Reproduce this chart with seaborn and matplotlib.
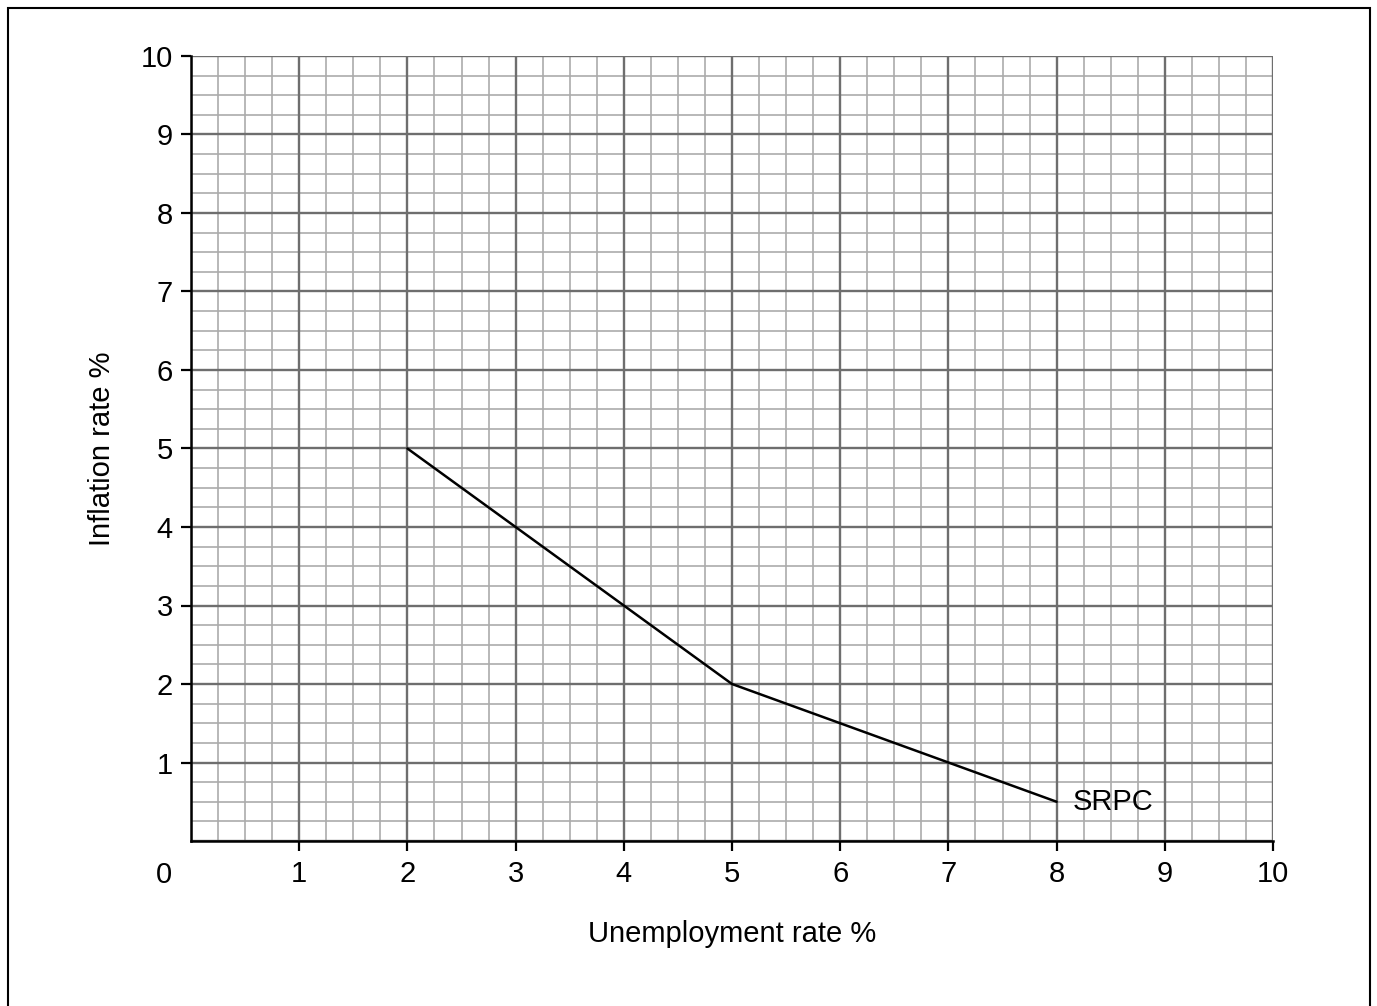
import numpy as np
import matplotlib.pyplot as plt
import seaborn as sns
import pandas as pd

# data
unemployment = [2, 3, 4, 5, 6, 7, 8]
inflation = [5, 4, 3, 2, 1.5, 1, 0.5]
curve_label = 'SRPC'
x_ticks = [1, 2, 3, 4, 5, 6, 7, 8, 9, 10]
y_ticks = [1, 2, 3, 4, 5, 6, 7, 8, 9, 10]

sns.set_style('white')
plt.rcParams['font.family'] = ['Liberation Sans', 'DejaVu Sans']
plt.rcParams['text.color'] = 'black'
plt.rcParams['axes.labelcolor'] = 'black'
plt.rcParams['xtick.color'] = 'black'
plt.rcParams['ytick.color'] = 'black'

FS = 21
W, H = 1377, 1006
fig = plt.figure(figsize=(W / 100, H / 100), dpi=100)
ax = fig.add_axes([191 / W, 1 - 841 / H, (1273 - 191) / W, (841 - 56) / H])

ax.set_xlim(0, 10)
ax.set_ylim(0, 10)

# graph paper grid
minor = np.arange(0, 10.01, 0.25)
major = np.arange(0, 10.01, 1)
for v in minor:
    ax.axvline(v, color='#ababab', lw=1.2, zorder=1)
    ax.axhline(v, color='#ababab', lw=1.2, zorder=1)
for v in major:
    ax.axvline(v, color='#6e6e6e', lw=1.7, zorder=2)
    ax.axhline(v, color='#6e6e6e', lw=1.7, zorder=2)

df = pd.DataFrame({'u': unemployment, 'i': inflation})
sns.lineplot(data=df, x='u', y='i', ax=ax, color='black', lw=1.8,
             sort=False, zorder=5)
ax.text(unemployment[-1] + 0.15, inflation[-1], curve_label,
        fontsize=FS, va='center', ha='left', zorder=6)

for side in ['top', 'right']:
    ax.spines[side].set_visible(False)
for side in ['left', 'bottom']:
    ax.spines[side].set_visible(True)
    ax.spines[side].set_color('black')
    ax.spines[side].set_linewidth(1.8)
    ax.spines[side].set_zorder(7)

ax.set_xticks(x_ticks)
ax.set_yticks(y_ticks)
ax.tick_params(axis='both', direction='out', length=7, width=1.6,
               color='black', labelsize=FS, left=True, bottom=True)
ax.tick_params(axis='x', pad=7)
ax.tick_params(axis='y', pad=6)
ax.text(-0.254, -0.43, '0', fontsize=FS, ha='center', va='center',
        transform=ax.transData, clip_on=False)

ax.set_xlabel('Unemployment rate %', fontsize=FS)
ax.set_ylabel('Inflation rate %', fontsize=FS)
ax.xaxis.set_label_coords(0.5, -0.101)
ax.yaxis.set_label_coords(-0.069, 0.5)

# outer frame
fig.add_artist(plt.Rectangle((8 / W, -0.01), (1370 - 8) / W, 1 - 8 / H + 0.01,
                             transform=fig.transFigure, fill=False,
                             edgecolor='black', lw=1.5))

fig.savefig('out.png', dpi=100)
